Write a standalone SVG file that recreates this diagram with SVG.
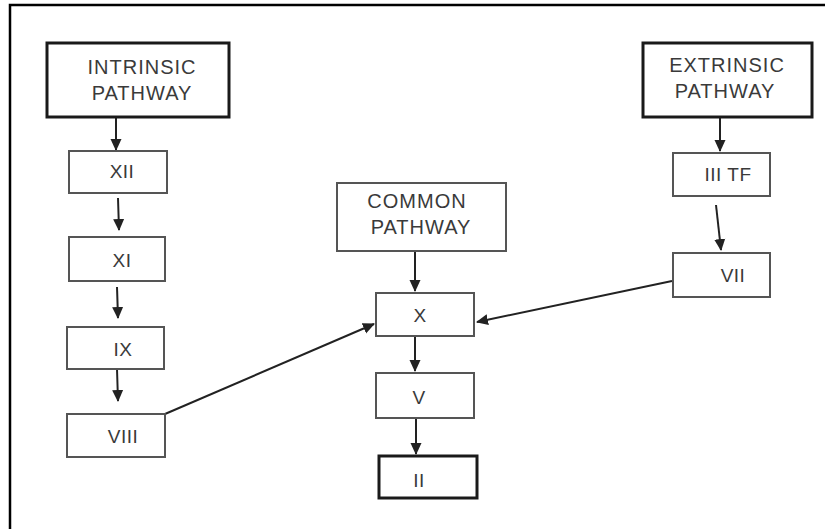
<svg xmlns="http://www.w3.org/2000/svg" width="825" height="529" viewBox="0 0 825 529">
<defs>
<style>
.bg{fill:#fff}
.frame{stroke:#000;stroke-width:2.5;fill:none}
.thick{fill:#fff;stroke:#1a1a1a;stroke-width:3}
.thin{fill:#fff;stroke:#555;stroke-width:2}
.big{font-family:"Liberation Sans",Arial,sans-serif;font-size:20px;letter-spacing:1px;fill:#3a3a3a;text-anchor:middle}
.small{font-family:"Liberation Sans",Arial,sans-serif;font-size:19px;letter-spacing:0.5px;fill:#3a3a3a;text-anchor:middle}
.conn{stroke:#222;stroke-width:2;fill:none;marker-end:url(#ah)}
</style>
<marker id="ah" markerWidth="12" markerHeight="12" refX="11" refY="6" orient="auto" markerUnits="userSpaceOnUse" viewBox="0 0 12 12">
<path d="M0,0.5 L12,6 L0,11.5 z" fill="#222"/>
</marker>
</defs>
<rect class="bg" x="0" y="0" width="825" height="529"/>
<path class="frame" d="M10,529 V5 H825"/>
<g id="connectors">
<line class="conn" x1="116" y1="117" x2="116" y2="150"/>
<line class="conn" x1="118" y1="198" x2="119" y2="230"/>
<line class="conn" x1="117" y1="287" x2="118" y2="318"/>
<line class="conn" x1="117" y1="369" x2="118" y2="401"/>
<line class="conn" x1="415" y1="252" x2="415" y2="291"/>
<line class="conn" x1="415" y1="337" x2="415" y2="371"/>
<line class="conn" x1="416" y1="419" x2="416" y2="454"/>
<line class="conn" x1="720" y1="117" x2="720" y2="151"/>
<line class="conn" x1="716" y1="205" x2="721" y2="250"/>
<line class="conn" x1="672" y1="281" x2="477" y2="322"/>
<line class="conn" x1="165" y1="414" x2="374" y2="324"/>
</g>
<g id="intrinsic">
<rect class="thick" x="47" y="43" width="182" height="74"/>
<text class="big" x="142" y="74">INTRINSIC</text>
<text class="big" x="142" y="100">PATHWAY</text>
</g>
<g id="xii">
<rect class="thin" x="69" y="151" width="98" height="42"/>
<text class="small" x="122" y="178">XII</text>
</g>
<g id="xi">
<rect class="thin" x="69" y="237" width="96" height="44"/>
<text class="small" x="122" y="267">XI</text>
</g>
<g id="ix">
<rect class="thin" x="67" y="327" width="97" height="42"/>
<text class="small" x="123" y="356">IX</text>
</g>
<g id="viii">
<rect class="thin" x="67" y="414" width="98" height="43"/>
<text class="small" x="123" y="443">VIII</text>
</g>
<g id="common">
<rect class="thin" x="337" y="183" width="169" height="68"/>
<text class="big" x="417" y="208">COMMON</text>
<text class="big" x="421" y="234">PATHWAY</text>
</g>
<g id="x">
<rect class="thin" x="376" y="293" width="98" height="43"/>
<text class="small" x="420" y="322">X</text>
</g>
<g id="v">
<rect class="thin" x="376" y="373" width="98" height="45"/>
<text class="small" x="419" y="404">V</text>
</g>
<g id="ii">
<rect class="thick" x="379" y="456" width="98" height="42"/>
<text class="small" x="419" y="487">II</text>
</g>
<g id="extrinsic">
<rect class="thick" x="643" y="43" width="169" height="74"/>
<text class="big" x="727" y="72">EXTRINSIC</text>
<text class="big" x="725" y="98">PATHWAY</text>
</g>
<g id="iiitf">
<rect class="thin" x="673" y="153" width="97" height="43"/>
<text class="small" x="728" y="181">III TF</text>
</g>
<g id="vii">
<rect class="thin" x="673" y="253" width="97" height="44"/>
<text class="small" x="733" y="282">VII</text>
</g>
</svg>
